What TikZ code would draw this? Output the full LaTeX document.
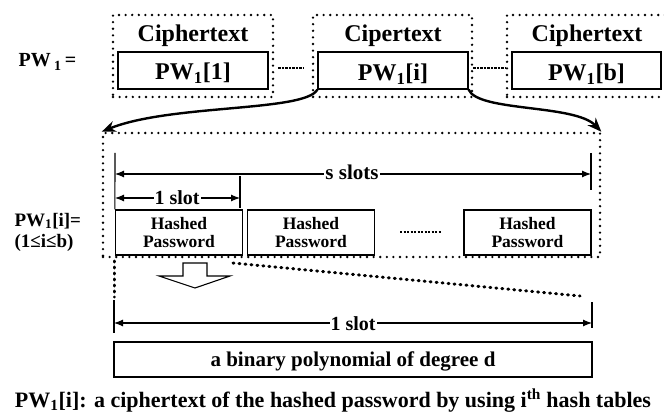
\documentclass[tikz,border=0pt]{standalone}
\usepackage{fontspec}
\setmainfont{Liberation Serif}
\usetikzlibrary{arrows.meta}

\newcommand{\fs}[1]{\fontsize{#1}{#1}\selectfont\bfseries}

\begin{document}
\begin{tikzpicture}[x=1pt,y=-1pt,
  dotbox/.style={draw, line width=2.6pt, dash pattern=on 0pt off 6.6pt, line cap=round, inner sep=0pt},
  solidbox/.style={draw, line width=1.2pt, inner sep=0pt},
  dense/.style={line width=3pt, line cap=round, dash pattern=on 1pt off 5pt},
  sep/.style={line width=2pt, dash pattern=on 2.2pt off 1.3pt},
  dim/.style={line width=1.1pt, {Latex[length=9pt,width=7pt]}-{Latex[length=9pt,width=7pt]}},
  tick/.style={line width=1.1pt},
  curve/.style={line width=2.4pt, -{Stealth[length=14pt,width=11pt]}},
  lbl/.style={fill=white, inner sep=1pt},
  hashbox/.style={solidbox, minimum width=127pt, minimum height=45pt, align=center, font=\fs{17.5}, text depth=0pt},
]
\useasboundingbox (0,0) rectangle (664,414);

% ---- ciphertext blocks of PW_1 ----
\node[dotbox, minimum width=160pt, minimum height=82pt] (ct1) at (193,56) {};
\node[dotbox, minimum width=159pt, minimum height=82pt] (ct2) at (392.5,56) {};
\node[dotbox, minimum width=160pt, minimum height=82pt] (ct3) at (587,56) {};

\node[solidbox, minimum width=150pt, minimum height=37pt] (pw1) at (193,70.5) {};
\node[solidbox, minimum width=150pt, minimum height=37pt] (pwi) at (393,70.5) {};
\node[solidbox, minimum width=149pt, minimum height=37pt] (pwb) at (586.5,70.5) {};

\node[anchor=base, font=\fs{24}] (t1) at (193,42) {Ciphertext};
\node[anchor=base, font=\fs{24}] (t2) at (393,42) {Cipertext};
\node[anchor=base, font=\fs{24}] (t3) at (587,42) {Ciphertext};

\node[anchor=base, font=\fs{24}] (l1) at (193,80) {PW\textsubscript{1}[1]};
\node[anchor=base, font=\fs{24}] (li) at (393,81) {PW\textsubscript{1}[i]};
\node[anchor=base, font=\fs{24}] (lb) at (586.5,81) {PW\textsubscript{1}[b]};

\node[anchor=base west, font=\fs{20}] (pwlabel) at (15,67) {PW\,\textsubscript{1}\,=};

\draw[sep] ([xshift=4pt,yshift=-12pt]ct1.east) -- ([xshift=-8pt,yshift=-12pt]ct2.west);
\draw[sep] ([yshift=-12pt]ct2.east) -- ([yshift=-12pt]ct3.west);

% ---- expansion of PW_1[i] ----
\node[dotbox, minimum width=497pt, minimum height=124pt] (frame) at (351.5,195) {};

\draw[curve] (pwi.south west) .. controls (305,112) and (170,104) .. (frame.north west);
\draw[curve] (pwi.south east) .. controls (478,112) and (575,104) .. (frame.north east);

\node[hashbox] (h1) at (179,232.5) {Hashed\\[1pt]Password};
\node[hashbox] (h2) at (311,232.5) {Hashed\\[1pt]Password};
\node[hashbox] (h3) at (527.5,232.5) {Hashed\\[1pt]Password};
\draw[sep] ([xshift=25pt]h2.east) -- ([xshift=-22pt]h3.west);

\coordinate (sL) at (115,153);
\coordinate (sR) at (591,153);
\coordinate (sRb) at (591,190);
\coordinate (oneR) at (240,176);
\coordinate (oneRb) at (240,208);
\draw[tick] (sL) -- (h1.north west);
\draw[tick] (sR) -- (sRb);
\draw[tick] (oneR) -- (oneRb);
\draw[dim] (115,174) -- (591,174);
\node[lbl, anchor=base, font=\fs{21}] (sslots) at (352,180) {s slots};
\draw[dim] (115,198) -- (240,198);
\node[lbl, anchor=base, font=\fs{20}] (oneslot) at (177,205) {1 slot};

\node[anchor=base west, font=\fs{19}] (pwilabel) at (11,226) {PW\textsubscript{1}[i]=};
\node[anchor=base west, font=\fs{19}] (rangelabel) at (11,247.5) {(1≤i≤b)};

% ---- one slot in detail ----
\coordinate (dA) at (114,261);
\coordinate (dB) at (114,297);
\coordinate (dC) at (233,263);
\coordinate (dD) at (580,296);
\draw[dense] (dA) -- (dB);
\draw[dense] (dC) -- (dD);

\draw[line width=1.1pt, fill=white] (183,263) -- (207,263) -- (207,276) -- (230,276)
  -- (195,288) -- (159,276) -- (183,276) -- cycle;

\node[solidbox, minimum width=478pt, minimum height=35pt] (poly) at (353,359.5) {};
\node[anchor=base, font=\fs{21}] (polytext) at (353,366) {a binary polynomial of degree d};

\coordinate (bL) at (114,300);
\coordinate (bR) at (592,302);
\draw[tick] (bL) -- (114,333);
\draw[tick] (bR) -- (592,328);
\draw[dim] (114,323) -- (592,323);
\node[lbl, anchor=base, font=\fs{20}] (oneslot2) at (353,330) {1 slot};

\node[anchor=base, font=\fs{22}] (caption) at (333,407)
  {PW\textsubscript{1}[i]: a ciphertext of the hashed password by using i\textsuperscript{th} hash tables};
\end{tikzpicture}
\end{document}
